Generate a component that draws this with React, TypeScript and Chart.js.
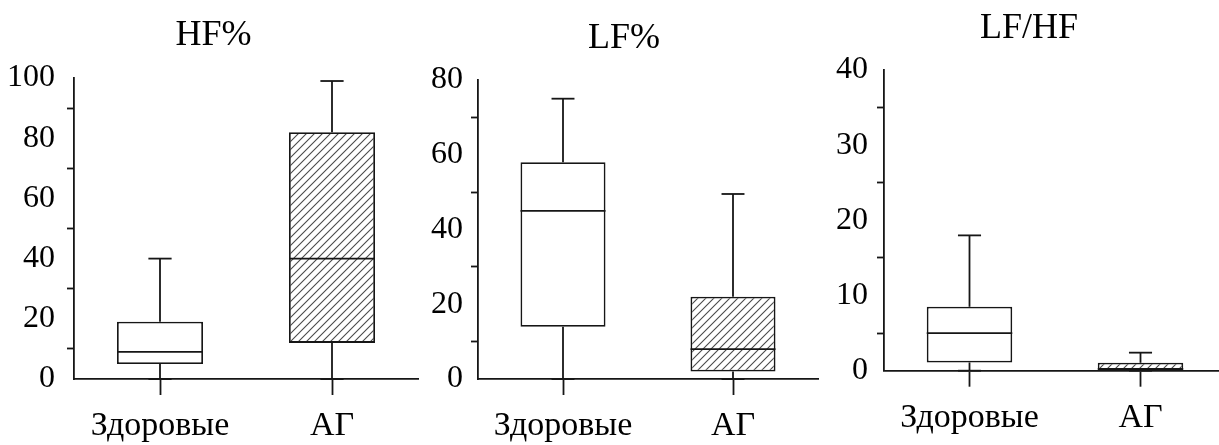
import React, { useEffect, useRef } from 'react';
import { Chart, registerables } from 'chart.js';

Chart.register(...registerables);

// Groups compared in every panel
const categories = ['Здоровые', 'АГ'];

// HF% — whisker ends, quartiles, median
const hfMin = [0, 0];
const hfQ1 = [5, 12];
const hfMedian = [9, 40];
const hfQ3 = [19, 82];
const hfMax = [40, 99];
const hfTickLabels = [0, 20, 40, 60, 80, 100];

// LF%
const lfMin = [0, 0];
const lfQ1 = [14, 2];
const lfMedian = [45, 8];
const lfQ3 = [58, 22];
const lfMax = [75, 49.5];
const lfTickLabels = [0, 20, 40, 60, 80];

// LF/HF
const ratioMin = [0, 0];
const ratioQ1 = [1.1, 0.1];
const ratioMedian = [5, 0.25];
const ratioQ3 = [8.5, 1.05];
const ratioMax = [18, 2.4];
const ratioTickLabels = [0, 10, 20, 30, 40];

const INK = '#161616';
const TEXT = '#000';
const FONT = '"Liberation Serif", "Times New Roman", serif';
const TITLE_SIZE = 36;
const TICK_SIZE = 32;
const CAT_SIZE = 34;
const LINE_W = 1.8;

type Stats = { min: number[]; q1: number[]; median: number[]; q3: number[]; max: number[] };

type Panel = {
  title: string;
  stats: Stats;
  tickLabels: number[];
  left: number;
  width: number;
  padLeft: number;
  padRight: number;
  yWidth: number;
  xHeight: number;
  titleTop: number;
  titleBottom: number;
  yLabelPad: number;
};

const panels: Panel[] = [
  {
    title: 'HF%',
    stats: { min: hfMin, q1: hfQ1, median: hfMedian, q3: hfQ3, max: hfMax },
    tickLabels: hfTickLabels,
    left: 0, width: 420, padLeft: 9, padRight: 2, yWidth: 65, xHeight: 66,
    titleTop: 14.4, titleBottom: 20.4, yLabelPad: 12,
  },
  {
    title: 'LF%',
    stats: { min: lfMin, q1: lfQ1, median: lfMedian, q3: lfQ3, max: lfMax },
    tickLabels: lfTickLabels,
    left: 420, width: 400, padLeft: 10, padRight: 2, yWidth: 48, xHeight: 66,
    titleTop: 17.4, titleBottom: 19.4, yLabelPad: 8,
  },
  {
    title: 'LF/HF',
    stats: { min: ratioMin, q1: ratioQ1, median: ratioMedian, q3: ratioQ3, max: ratioMax },
    tickLabels: ratioTickLabels,
    left: 820, width: 410, padLeft: 12, padRight: 4, yWidth: 52, xHeight: 74.3,
    titleTop: 7.4, titleBottom: 19.4, yLabelPad: 9,
  },
];

const CANVAS_H = 445;

function makeHatch(): CanvasPattern | string {
  const tile = document.createElement('canvas');
  tile.width = 8;
  tile.height = 8;
  const g = tile.getContext('2d');
  if (!g) return '#fff';
  g.fillStyle = '#fff';
  g.fillRect(0, 0, 8, 8);
  g.strokeStyle = '#4a4a4a';
  g.lineWidth = 1.1;
  g.beginPath();
  g.moveTo(0, 8);
  g.lineTo(8, 0);
  g.moveTo(-2, 2);
  g.lineTo(2, -2);
  g.moveTo(6, 10);
  g.lineTo(10, 6);
  g.stroke();
  return g.createPattern(tile, 'repeat') || '#fff';
}

// Draws medians, whiskers and caps over the floating-bar boxes
function whiskerPlugin(stats: Stats) {
  return {
    id: 'whiskers',
    afterDatasetsDraw(chart: any) {
      const { ctx } = chart;
      const x = chart.scales.x;
      const y = chart.scales.y;
      const bars = chart.getDatasetMeta(0).data;
      ctx.save();
      ctx.strokeStyle = INK;
      ctx.lineWidth = LINE_W;
      const seg = (x1: number, y1: number, x2: number, y2: number) => {
        ctx.beginPath();
        ctx.moveTo(x1, y1);
        ctx.lineTo(x2, y2);
        ctx.stroke();
      };
      stats.median.forEach((_, i) => {
        const cx = x.getPixelForValue(i);
        const bw = bars[i].width;
        const cap = bw * 0.27;
        const yMed = y.getPixelForValue(stats.median[i]);
        const yQ1 = y.getPixelForValue(stats.q1[i]);
        const yQ3 = y.getPixelForValue(stats.q3[i]);
        const yMin = y.getPixelForValue(stats.min[i]);
        const yMax = y.getPixelForValue(stats.max[i]);
        seg(cx - bw / 2, yMed, cx + bw / 2, yMed);
        seg(cx, yQ3, cx, yMax);
        seg(cx - cap / 2, yMax, cx + cap / 2, yMax);
        seg(cx, yQ1, cx, yMin);
        seg(cx - cap / 2, yMin, cx + cap / 2, yMin);
      });
      ctx.restore();
    },
  };
}

function BoxPanel({ panel }: { panel: Panel }) {
  const ref = useRef<HTMLCanvasElement | null>(null);

  useEffect(() => {
    if (!ref.current) return;
    const { stats, tickLabels } = panel;
    const labelStep = tickLabels[1] - tickLabels[0];
    const yMax = tickLabels[tickLabels.length - 1];
    const isLabelled = (v: number) => Math.abs(v / labelStep - Math.round(v / labelStep)) < 1e-6;

    const chart = new Chart(ref.current, {
      type: 'bar',
      data: {
        labels: categories,
        datasets: [
          {
            data: stats.q1.map((q, i) => [q, stats.q3[i]]) as any,
            backgroundColor: ['#ffffff', makeHatch()] as any,
            borderColor: INK,
            borderWidth: LINE_W,
            borderSkipped: false,
            barPercentage: 0.5,
            categoryPercentage: 1,
          },
        ],
      },
      options: {
        responsive: false,
        animation: false,
        devicePixelRatio: 1,
        layout: { padding: { left: panel.padLeft, right: panel.padRight, top: 0, bottom: 0 } },
        plugins: {
          legend: { display: false },
          tooltip: { enabled: false },
          title: {
            display: true,
            text: panel.title,
            color: TEXT,
            font: { family: FONT, size: TITLE_SIZE, weight: 'normal' },
            padding: { top: panel.titleTop, bottom: panel.titleBottom },
          },
        },
        scales: {
          x: {
            type: 'category',
            offset: true,
            grid: {
              offset: false,
              drawOnChartArea: false,
              drawTicks: true,
              tickLength: 16,
              tickColor: INK,
              tickWidth: LINE_W,
            },
            border: { display: true, color: INK, width: LINE_W },
            ticks: {
              color: TEXT,
              padding: 11,
              font: { family: FONT, size: CAT_SIZE },
              maxRotation: 0,
            },
            afterFit: (scale: any) => {
              scale.height = panel.xHeight;
            },
          },
          y: {
            type: 'linear',
            min: 0,
            max: yMax,
            grid: {
              drawOnChartArea: false,
              drawTicks: true,
              tickLength: 7,
              tickWidth: LINE_W,
              tickColor: (c: any) => (isLabelled(c.tick.value) ? 'rgba(0,0,0,0)' : INK),
            },
            border: { display: true, color: INK, width: LINE_W },
            ticks: {
              stepSize: labelStep / 2,
              autoSkip: false,
              color: TEXT,
              padding: panel.yLabelPad,
              font: { family: FONT, size: TICK_SIZE },
              callback: (v: any) => (isLabelled(Number(v)) ? String(v) : ''),
            },
            afterFit: (scale: any) => {
              scale.width = panel.yWidth;
            },
          },
        },
      },
      plugins: [whiskerPlugin(stats)],
    });
    return () => chart.destroy();
  }, [panel]);

  return (
    <canvas
      ref={ref}
      width={panel.width}
      height={CANVAS_H}
      style={{ position: 'absolute', left: panel.left, top: 0, width: panel.width, height: CANVAS_H }}
    />
  );
}

export default function App() {
  return (
    <div
      style={{
        position: 'absolute',
        left: 0,
        top: 0,
        width: 1219,
        height: CANVAS_H,
        overflow: 'hidden',
        background: '#fff',
      }}
    >
      {panels.map((p) => (
        <BoxPanel key={p.title} panel={p} />
      ))}
    </div>
  );
}
